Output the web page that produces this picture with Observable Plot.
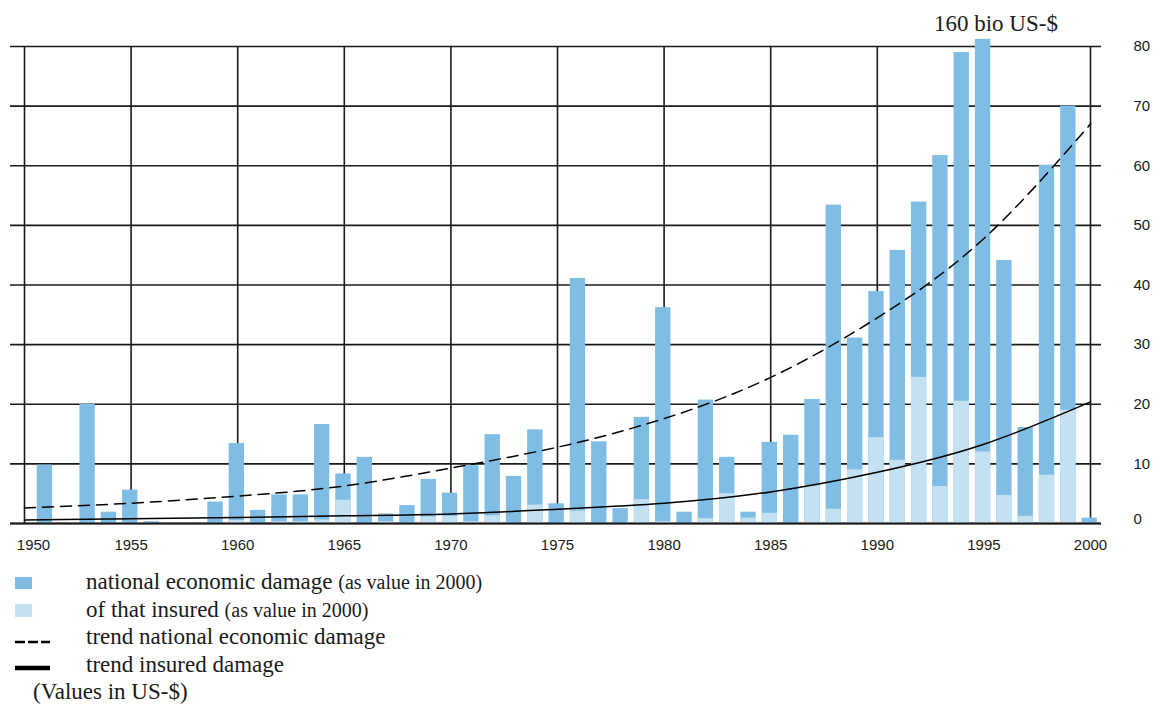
<!DOCTYPE html>
<html>
<head>
<meta charset="utf-8">
<script src="https://cdn.jsdelivr.net/npm/d3@7"></script>
<script src="https://cdn.jsdelivr.net/npm/@observablehq/plot@0.6"></script>
<style>
  body { margin: 0; background: #fff; }
  #wrap { position: relative; width: 1156px; height: 706px; }
  #chart { position: absolute; left: 0; top: 0; }
  .leg { position: absolute; font-family: "Liberation Serif", serif; font-size: 23px; color: #1a1a1a; line-height: 28px; white-space: nowrap; }
  .leg small { font-size: 20px; }
  .sw { position: absolute; }
</style>
</head>
<body>
<div id="wrap">
  <div id="chart"></div>
  <div id="legend"></div>
</div>
<script>
// damage per year, bn US-$ (value of 2000)
const years = [1950,1951,1952,1953,1954,1955,1956,1957,1958,1959,
  1960,1961,1962,1963,1964,1965,1966,1967,1968,1969,
  1970,1971,1972,1973,1974,1975,1976,1977,1978,1979,
  1980,1981,1982,1983,1984,1985,1986,1987,1988,1989,
  1990,1991,1992,1993,1994,1995,1996,1997,1998,1999,2000]
const national = [0,9.8,0,20.0,1.9,5.6,0.3,0,0,3.6,
  13.4,2.2,4.8,4.8,16.6,8.3,11.1,1.6,3.0,7.4,
  5.1,9.7,14.9,7.9,15.7,3.3,41.1,13.7,2.5,17.8,
  36.2,1.9,20.7,11.1,1.9,13.6,14.8,20.8,53.4,31.1,
  38.9,45.8,53.9,61.7,79.0,160,44.1,16.1,60.1,70.0,0.9]
const insured = [0,0,0,0,0,0,0,0,0,0,
  0.5,0,0.3,0.3,0.6,3.9,0,0.3,0,1.1,
  1.2,0.3,1.3,0,3.1,0,2.1,0,0,4.0,
  0.3,0,0.8,5.0,0.9,1.7,0,6.3,2.4,9.0,
  14.4,10.6,24.5,6.2,20.5,12.0,4.7,1.2,8.1,19.0,0]

// trend curves read every 5 years
const trendYears = [1950,1955,1960,1965,1970,1975,1980,1985,1990,1995,2000]
const trendNational = [2.6,3.4,4.6,6.3,9.3,12.8,17.6,24.5,34.5,47.8,67.0]
const trendInsured = [0.6,0.8,1.0,1.3,1.6,2.4,3.4,5.3,8.6,13.3,20.4]

const xTicks = [1950,1955,1960,1965,1970,1975,1980,1985,1990,1995,2000]
const yTicks = [0,10,20,30,40,50,60,70,80]

const blue = '#7fbde4'
const lightBlue = '#c4e1f1'
const ink = '#1a1a1a'
const yCap = 81.2 // bar over the top is cut here

const table = years.map((year, i) => ({year, national: national[i], insured: insured[i]}))
const trend = trendYears.map((year, i) => ({year, national: trendNational[i], insured: trendInsured[i]}))

const plain = d => String(d)

let chart = Plot.plot({
  width: 1156,
  height: 562,
  marginLeft: 24,
  marginRight: 66,
  marginTop: 46,
  marginBottom: 39,
  x: { domain: [1950, 2000] },
  y: { domain: [0, 80] },
  style: {
    background: '#ffffff',
    color: ink,
    fontFamily: 'Liberation Sans',
    fontSize: 15,
  },
  marks: [
    Plot.ruleX(xTicks, { stroke: ink, strokeWidth: 1.6 }),
    Plot.ruleY(yTicks, { stroke: ink, strokeWidth: 1.6, insetLeft: -14, insetRight: -11 }),
    Plot.rectY(table.filter(d => d.national > 0), {
      x1: d => d.year - 0.4,
      x2: d => d.year + 0.32,
      y1: 0,
      y2: d => Math.min(d.national, yCap),
      fill: blue,
    }),
    Plot.rectY(table.filter(d => d.insured > 0), {
      x1: d => d.year - 0.4,
      x2: d => d.year + 0.32,
      y1: 0,
      y2: 'insured',
      fill: lightBlue,
    }),
    Plot.ruleY([0], { stroke: ink, strokeWidth: 2, insetLeft: -14, insetRight: -11 }),
    Plot.line(trend, {
      x: 'year', y: 'national', curve: 'natural',
      stroke: '#000', strokeWidth: 1.5, strokeDasharray: '11,7',
    }),
    Plot.line(trend, {
      x: 'year', y: 'insured', curve: 'natural',
      stroke: '#000', strokeWidth: 1.5,
    }),
    Plot.text(table.filter(d => d.national > yCap), {
      x: 'year',
      y: () => yCap,
      text: d => `${d.national} bio US-$`,
      dx: 12,
      dy: -16,
      fontFamily: 'Liberation Serif',
      fontSize: 23,
      fill: ink,
    }),
    Plot.axisX(xTicks.slice(1), { tickSize: 0, tickPadding: 16, label: null, fontSize: 15, tickFormat: plain }),
    Plot.axisX(xTicks.slice(0, 1), { tickSize: 0, tickPadding: 16, label: null, fontSize: 15, tickFormat: plain, dx: 9 }),
    Plot.axisY(yTicks.slice(1), { anchor: 'right', tickSize: 0, tickPadding: 43, label: null, fontSize: 15, tickFormat: plain }),
    Plot.axisY(yTicks.slice(0, 1), { anchor: 'right', tickSize: 0, tickPadding: 43, label: null, fontSize: 15, tickFormat: plain, dy: -4 }),
  ],
})
d3.select('#chart').append(() => chart)

// legend below the plot
const legend = d3.select('#legend')
legend.append('div').attr('class', 'sw')
  .style('left', '15px').style('top', '577px').style('width', '17px').style('height', '12px')
  .style('background', blue)
legend.append('div').attr('class', 'sw')
  .style('left', '15px').style('top', '604px').style('width', '17px').style('height', '13px')
  .style('background', lightBlue)
const lines = legend.append('svg').attr('class', 'sw')
  .style('left', '0px').style('top', '630px').attr('width', 60).attr('height', 50)
lines.append('line').attr('x1', 15).attr('x2', 50).attr('y1', 12).attr('y2', 12)
  .attr('stroke', '#000').attr('stroke-width', 2.5).attr('stroke-dasharray', '10,3')
lines.append('line').attr('x1', 15).attr('x2', 50).attr('y1', 38).attr('y2', 38)
  .attr('stroke', '#000').attr('stroke-width', 4.5)

const rows = [
  { left: 86, top: 568, html: 'national economic damage <small>(as value in 2000)</small>' },
  { left: 86, top: 596, html: 'of that insured <small>(as value in 2000)</small>' },
  { left: 86, top: 623, html: 'trend national economic damage' },
  { left: 86, top: 651, html: 'trend insured damage' },
  { left: 33, top: 678, html: '(Values in US-$)' },
]
rows.forEach(r => {
  legend.append('div').attr('class', 'leg')
    .style('left', r.left + 'px').style('top', r.top + 'px')
    .html(r.html)
})
</script>
</body>
</html>
